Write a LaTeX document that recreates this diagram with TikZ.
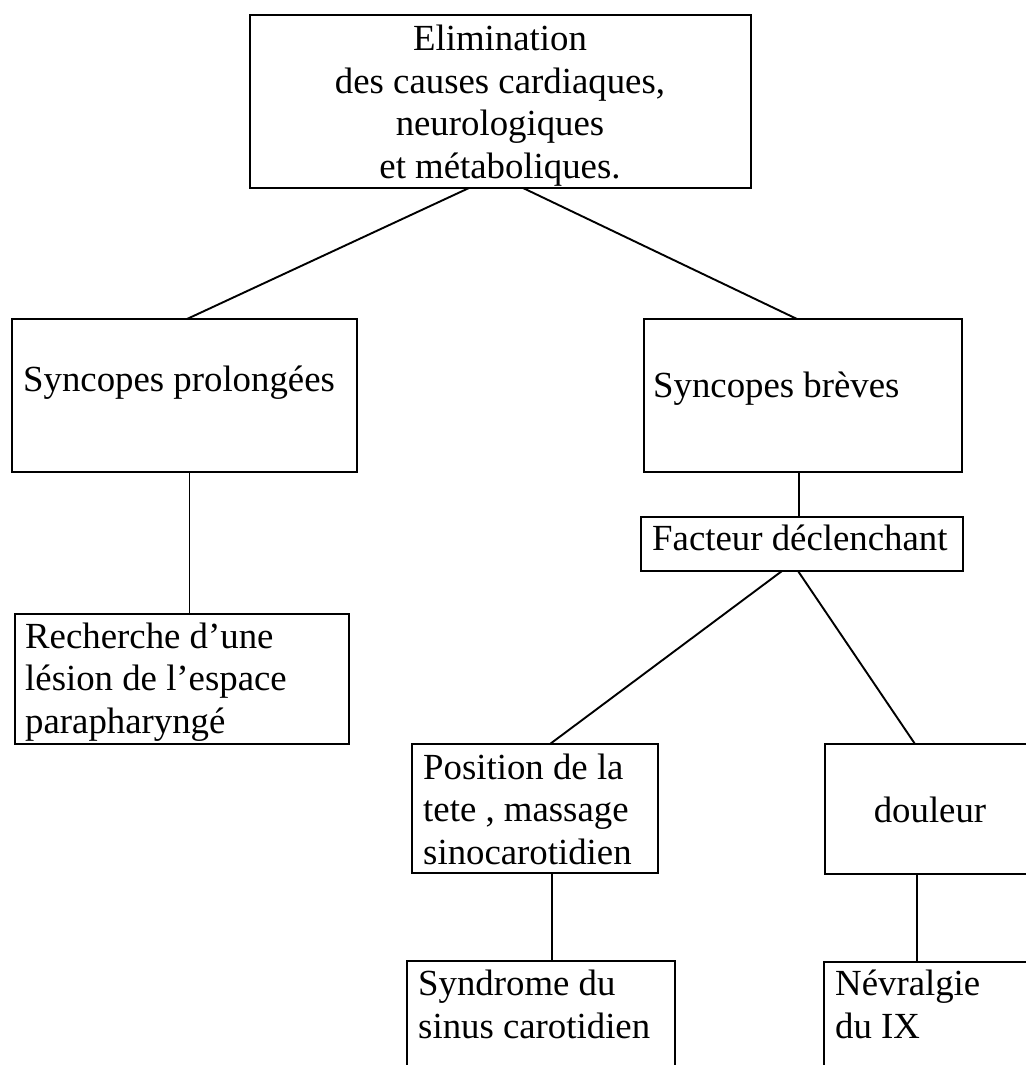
\documentclass[tikz,border=0pt]{standalone}
\usepackage{fontspec}
\setmainfont{Liberation Serif}
\usetikzlibrary{calc}
\begin{document}
\begin{tikzpicture}[x=1pt,y=-1pt,
  box/.style={draw, line width=1.9pt, inner sep=0pt, outer sep=0pt, anchor=north west},
  txt/.style={inner sep=0pt, font=\fontsize{36.8}{42.5}\selectfont, align=left, anchor=base west},
  link/.style={line width=1.9pt}]
\useasboundingbox (0,0) rectangle (1025,1065);
% boxes
\node[box, minimum width=501pt, minimum height=173pt] (top) at (250,15) {};
\node[box, minimum width=345pt, minimum height=153pt] (sp) at (12,319) {};
\node[box, minimum width=318pt, minimum height=153pt] (sb) at (644,319) {};
\node[box, minimum width=322pt, minimum height=54pt] (fd) at (641,517) {};
\node[box, minimum width=334pt, minimum height=130pt] (rech) at (15,614) {};
\node[box, minimum width=246pt, minimum height=129pt] (pos) at (412,744) {};
\node[box, minimum width=205pt, minimum height=130pt] (dou) at (825,744) {};
\node[box, minimum width=268pt, minimum height=120pt] (syn) at (407,961) {};
\node[box, minimum width=206pt, minimum height=120pt] (nev) at (824,962) {};
% texts (multi-line: base = last line)
\node[txt, align=center, anchor=base] (toptxt) at (500,178) {Elimination\\des causes cardiaques,\\neurologiques\\et métaboliques.};
\node[txt] (sptxt) at (23,391) {Syncopes prolongées};
\node[txt] (sbtxt) at (653,397) {Syncopes brèves};
\node[txt] (fdtxt) at (652,550) {Facteur déclenchant};
\node[txt] (rechtxt) at (25,733) {Recherche d’une\\lésion de l’espace\\parapharyngé};
\node[txt] (postxt) at (423,864) {Position de la\\tete , massage\\sinocarotidien};
\node[txt, anchor=base] (doutxt) at (930,822) {douleur};
\node[txt] (syntxt) at (418,1038) {Syndrome du\\sinus carotidien};
\node[txt] (nevtxt) at (835,1038) {Névralgie\\du IX};
% connectors
\draw[link] ([xshift=-31.5pt]top.south) -- ([xshift=2.5pt]sp.north);
\draw[link] ([xshift=22.5pt]top.south) -- ([xshift=-6pt]sb.north);
\draw[link] ([xshift=5pt]sp.south) -- ([xshift=5pt]sp.south |- rech.north);
\draw[link] ([xshift=-4pt]sb.south) -- ([xshift=-4pt]sb.south |- fd.north);
\draw[link] ([xshift=-20pt]fd.south) -- ([xshift=15pt]pos.north);
\draw[link] ([xshift=-4pt]fd.south) -- ([xshift=-12.5pt]dou.north);
\draw[link] ([xshift=17pt]pos.south) -- ([xshift=17pt]pos.south |- syn.north);
\draw[link] ([xshift=-10.5pt]dou.south) -- ([xshift=-10.5pt]dou.south |- nev.north);
\end{tikzpicture}
\end{document}
